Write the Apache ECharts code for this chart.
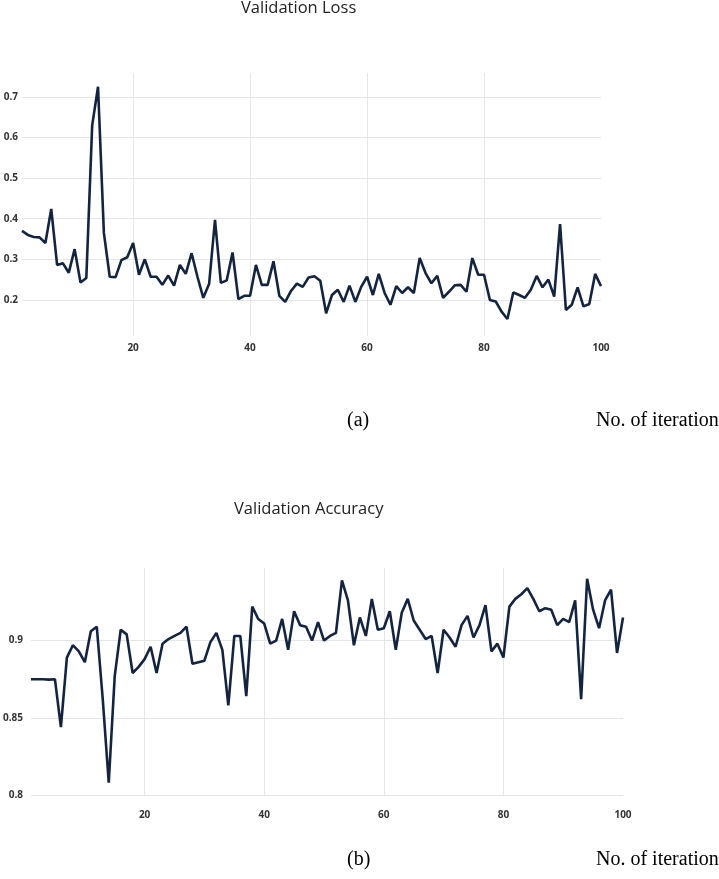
<!DOCTYPE html>
<html>
<head>
<meta charset="utf-8">
<script src="https://cdn.jsdelivr.net/npm/echarts@6/dist/echarts.min.js"></script>
<style>html,body{margin:0;padding:0;background:#fff;}#chart{width:719px;height:879px;}</style>
</head>
<body>
<div id="chart"></div>
<script>
// Validation loss per iteration (1..100)
const lossValues = [
  0.370, 0.360, 0.355, 0.354, 0.340, 0.424, 0.286, 0.290, 0.267, 0.325,
  0.243, 0.254, 0.630, 0.725, 0.365, 0.257, 0.256, 0.298, 0.305, 0.340,
  0.262, 0.300, 0.257, 0.257, 0.237, 0.260, 0.235, 0.286, 0.264, 0.315,
  0.257, 0.205, 0.240, 0.397, 0.242, 0.248, 0.317, 0.202, 0.210, 0.210,
  0.286, 0.237, 0.237, 0.295, 0.210, 0.195, 0.222, 0.240, 0.232, 0.255,
  0.258, 0.247, 0.167, 0.212, 0.225, 0.195, 0.235, 0.195, 0.232, 0.257,
  0.212, 0.264, 0.217, 0.188, 0.234, 0.217, 0.231, 0.217, 0.303, 0.266,
  0.241, 0.259, 0.205, 0.220, 0.236, 0.237, 0.220, 0.303, 0.262, 0.262,
  0.200, 0.196, 0.171, 0.153, 0.218, 0.212, 0.205, 0.225, 0.259, 0.231,
  0.250, 0.208, 0.387, 0.175, 0.188, 0.231, 0.184, 0.190, 0.264, 0.234
];
// Validation accuracy per iteration (1..100)
const accValues = [
  0.875, 0.875, 0.875, 0.8747, 0.875, 0.844, 0.889, 0.897, 0.893, 0.886,
  0.906, 0.909, 0.862, 0.808, 0.877, 0.907, 0.904, 0.879, 0.883, 0.888,
  0.896, 0.879, 0.898, 0.901, 0.903, 0.905, 0.909, 0.885, 0.886, 0.887,
  0.899, 0.905, 0.894, 0.858, 0.903, 0.903, 0.864, 0.922, 0.914, 0.911,
  0.898, 0.900, 0.914, 0.894, 0.919, 0.910, 0.909, 0.900, 0.912, 0.900,
  0.903, 0.905, 0.939, 0.926, 0.897, 0.915, 0.903, 0.927, 0.907, 0.908,
  0.919, 0.894, 0.918, 0.927, 0.913, 0.907, 0.901, 0.903, 0.879, 0.907,
  0.902, 0.896, 0.910, 0.916, 0.902, 0.910, 0.923, 0.893, 0.898, 0.889,
  0.922, 0.927, 0.930, 0.934, 0.927, 0.919, 0.921, 0.920, 0.910, 0.914,
  0.912, 0.926, 0.862, 0.940, 0.920, 0.908, 0.926, 0.933, 0.892, 0.915
];
const xTickLabels = [20, 40, 60, 80, 100];
const xGridTicks = [20, 40, 60, 80];
const lossTicks = [0.2, 0.3, 0.4, 0.5, 0.6, 0.7];
const accTicks = [0.8, 0.85, 0.9];

const toPairs = arr => arr.map((v, i) => [i + 1, v]);

const chart = echarts.init(document.getElementById('chart'), null, {renderer: 'canvas'});
const gridColor = '#e6e6e6';
const tickFont = {fontFamily: 'Open Sans', fontSize: 10, color: '#333', fontWeight: 'bold'};
const lineColor = '#14243f';
const titleStyle = {fontFamily: 'Open Sans', fontSize: 16.5, fontWeight: 'normal', color: '#222'};
const captionStyle = {fontFamily: 'Liberation Serif', fontSize: 20, fontWeight: 'normal', color: '#000'};

function xAxisCfg(gridIndex, margin) {
  return {
    type: 'value', gridIndex, min: 1, max: 100,
    axisLine: {show: false},
    axisTick: {show: false, customValues: xGridTicks},
    axisLabel: Object.assign({customValues: xTickLabels, margin}, tickFont),
    splitLine: {show: true, lineStyle: {color: gridColor, width: 1}}
  };
}
function yAxisCfg(gridIndex, min, max, ticks, margin) {
  return {
    type: 'value', gridIndex, min, max,
    axisLine: {show: false},
    axisTick: {show: false, customValues: ticks},
    axisLabel: Object.assign({customValues: ticks, margin}, tickFont),
    splitLine: {show: true, lineStyle: {color: gridColor, width: 1}}
  };
}

chart.setOption({
  animation: false,
  backgroundColor: '#ffffff',
  title: [
    {text: 'Validation Loss', left: 241, top: 0, padding: 0, textStyle: titleStyle},
    {text: 'Validation Accuracy', left: 234, top: 501, padding: 0, textStyle: titleStyle},
    {text: '(a)', left: 347, top: 411, padding: 0, textStyle: captionStyle},
    {text: 'No. of iteration', left: 596, top: 411, padding: 0, textStyle: captionStyle},
    {text: '(b)', left: 347, top: 850, padding: 0, textStyle: captionStyle},
    {text: 'No. of iteration', left: 596, top: 850, padding: 0, textStyle: captionStyle}
  ],
  grid: [
    {left: 22, right: 118, top: 73, height: 263, containLabel: false},
    {left: 28, right: 96, top: 568, height: 227, containLabel: false}
  ],
  xAxis: [xAxisCfg(0, 7), xAxisCfg(1, 15)],
  yAxis: [
    yAxisCfg(0, 0.111, 0.759, lossTicks, 4),
    yAxisCfg(1, 0.8, 0.947, accTicks, 8)
  ],
  series: [
    {type: 'line', xAxisIndex: 0, yAxisIndex: 0, data: toPairs(lossValues),
     showSymbol: false, symbol: 'none', lineStyle: {color: lineColor, width: 2.6}},
    {type: 'line', xAxisIndex: 1, yAxisIndex: 1, data: toPairs(accValues),
     showSymbol: false, symbol: 'none', lineStyle: {color: lineColor, width: 2.6}}
  ]
});
</script>
</body>
</html>
